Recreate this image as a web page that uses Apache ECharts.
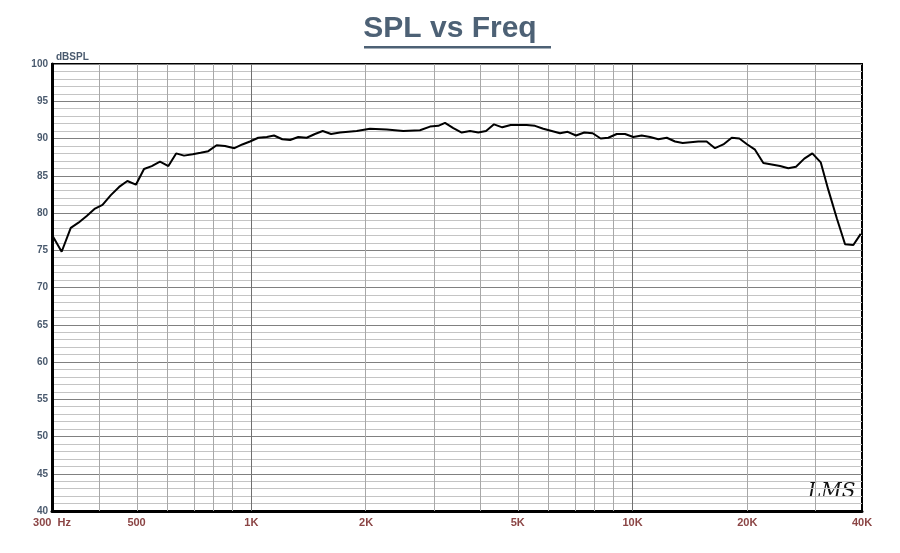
<!DOCTYPE html>
<html>
<head>
<meta charset="utf-8">
<script src="https://cdn.jsdelivr.net/npm/echarts@6/dist/echarts.min.js"></script>
<style>html,body{margin:0;padding:0;background:#fff}#chart{width:900px;height:553px}</style>
</head>
<body>
<div id="chart"></div>
<script>
// frequencies (Hz) and SPL (dB)
var freqs = [302, 318, 336, 352, 370, 389, 407, 428, 450, 473, 498, 523, 548, 576, 606, 635, 666, 702, 736, 771,
    811, 853, 903, 947, 992, 1043, 1098, 1147, 1206, 1264, 1328, 1397, 1469, 1539, 1619, 1709, 1890, 2048, 2266, 2504,
    2770, 2943, 3094, 3222, 3388, 3565, 3748, 3940, 4128, 4332, 4555, 4791, 5278, 5549, 5834, 6140, 6453, 6761, 7110, 7474,
    7862, 8251, 8640, 9091, 9559, 10050, 10570, 11120, 11690, 12300, 12930, 13540, 14880, 15650, 16460, 17310, 18210, 19070, 20010, 20960,
    22040, 23190, 24380, 25630, 26850, 28230, 29630, 31170, 32640, 34350, 36110, 37960, 39700];
var spl = [76.8, 74.8, 78.0, 78.7, 79.6, 80.6, 81.1, 82.4, 83.5, 84.3, 83.8, 85.9, 86.3, 86.9, 86.3, 88.0, 87.7, 87.9, 88.1, 88.3,
    89.1, 89.0, 88.7, 89.2, 89.6, 90.1, 90.2, 90.4, 89.9, 89.8, 90.2, 90.1, 90.6, 91.0, 90.6, 90.8, 91.0, 91.3, 91.2, 91.0,
    91.1, 91.6, 91.7, 92.1, 91.4, 90.8, 91.0, 90.8, 91.0, 91.9, 91.5, 91.8, 91.8, 91.7, 91.3, 91.0, 90.7, 90.9, 90.4, 90.8,
    90.7, 90.0, 90.1, 90.6, 90.6, 90.2, 90.4, 90.2, 89.9, 90.1, 89.6, 89.4, 89.6, 89.6, 88.7, 89.2, 90.1, 90.0, 89.2, 88.5,
    86.7, 86.5, 86.3, 86.0, 86.2, 87.3, 88.0, 86.8, 83.1, 79.3, 75.8, 75.7, 77.2];
var tickFreqs = [300, 500, 1000, 2000, 5000, 10000, 20000, 40000];
var tickLabels = ['300  Hz', '500', '1K', '2K', '5K', '10K', '20K', '40K'];
var gridFreqs = [400, 500, 600, 700, 800, 900, 2000, 3000, 4000, 5000, 6000, 7000, 8000, 9000, 20000, 30000];
var decadeFreqs = [1000, 10000];

var lg = function (f) { return Math.log10(f); };
var labelMap = {};
tickFreqs.forEach(function (f, i) { labelMap[lg(f).toFixed(4)] = tickLabels[i]; });

var lineData = [];
for (var i = 0; i < freqs.length; i++) lineData.push([lg(freqs[i]), spl[i]]);

var vLines = gridFreqs.map(function (f) { return { xAxis: lg(f), lineStyle: { color: '#a8a8a8', width: 1, type: 'solid' } }; })
    .concat(decadeFreqs.map(function (f) { return { xAxis: lg(f), lineStyle: { color: '#707070', width: 1, type: 'solid' } }; }));

var myChart = echarts.init(document.getElementById('chart'));
var option = {
    backgroundColor: '#fff',
    animation: false,
    graphic: [
        { type: 'text', left: 'center', top: 14, style: { text: 'SPL vs Freq', font: 'bold 30px Arial, "Liberation Sans"', fill: '#4d6175' } },
        { type: 'rect', shape: { x: 364, y: 46, width: 187, height: 2.5 }, style: { fill: '#4d6175' } },
        { type: 'text', left: 808, top: 482, style: { text: 'LMS', font: 'italic 20px "DejaVu Serif"', fill: '#111' } }
    ],
    grid: { left: 52, right: 38, top: 64, bottom: 42, show: true, borderColor: '#000', borderWidth: 2 },
    xAxis: {
        type: 'value',
        min: lg(300),
        max: lg(40000),
        splitLine: { show: false },
        axisLine: { lineStyle: { color: '#000', width: 3 } },
        axisTick: { show: false },
        axisLabel: {
            customValues: tickFreqs.map(lg),
            color: '#8b4545',
            fontWeight: 'bold',
            fontSize: 11,
            fontFamily: 'Arial Narrow, Liberation Sans Narrow, Arial',
            margin: 6,
            formatter: function (v) { return labelMap[v.toFixed(4)] || ''; }
        }
    },
    yAxis: {
        type: 'value',
        min: 40,
        max: 100,
        interval: 5,
        name: 'dBSPL',
        nameGap: 2,
        nameLocation: 'end',
        nameTextStyle: { color: '#4a5a6e', fontSize: 10, fontWeight: 'bold', align: 'left', padding: [0, 0, 0, 4] },
        axisLine: { show: true, lineStyle: { color: '#000', width: 3 } },
        axisTick: { show: false },
        axisLabel: { color: '#4a5a6e', fontSize: 10, fontWeight: 'bold', margin: 4 },
        splitLine: { show: true, lineStyle: { color: '#808080', width: 1 } },
        minorTick: { show: false, splitNumber: 5 },
        minorSplitLine: { show: true, lineStyle: { color: '#c4c4c4', width: 1 } }
    },
    series: [{
        type: 'line',
        data: lineData,
        symbol: 'none',
        lineStyle: { color: '#000', width: 2 },
        z: 5,
        markLine: { silent: true, symbol: 'none', label: { show: false }, data: vLines, z: 1 }
    }]
};
myChart.setOption(option);
</script>
</body>
</html>
